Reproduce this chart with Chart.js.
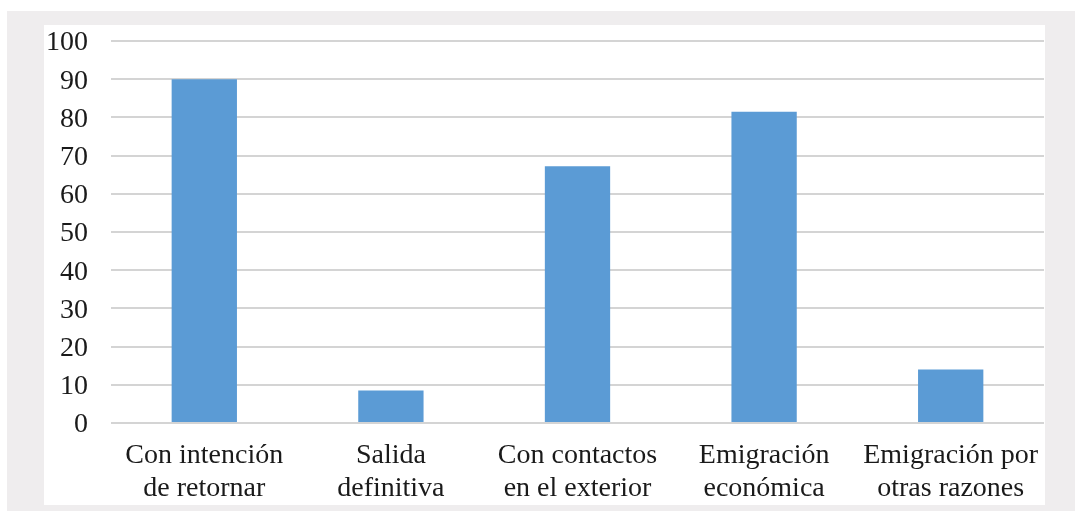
<!DOCTYPE html>
<html>
<head>
<meta charset="utf-8">
<script src="https://cdn.jsdelivr.net/npm/chart.js"></script>
<style>
	body { margin: 0; background: #fff; }
	.frame { position: absolute; left: 7px; top: 11px; width: 1068px; height: 500px; background: #efedee; }
	.panel { position: absolute; left: 44px; top: 25px; width: 1001px; height: 480px; background: #fff; }
	#bar-chart { position: absolute; left: 0; top: 0; }
</style>
</head>
<body>
<div class="frame"></div>
<div class="panel"></div>
<canvas id="bar-chart" width="1075" height="511"></canvas>
<script>
// categories (two lines each, as in the picture)
let categories = [
	["Con intención", "de retornar"],
	["Salida", "definitiva"],
	["Con contactos", "en el exterior"],
	["Emigración", "económica"],
	["Emigración por", "otras razones"]
];
let values = [90, 8.5, 67.2, 81.5, 14];
let yTicks = [0, 10, 20, 30, 40, 50, 60, 70, 80, 90, 100];

let textColor = "#1a1a1a",
	gridColor = "#d4d4d4",
	barColor = "#5b9bd5",
	fontFamily = "'Liberation Serif', 'Times New Roman', serif";

let ctx = document.querySelector("#bar-chart").getContext("2d");

let bChart = new Chart(ctx, {
	type: "bar",
	data: {
		labels: categories,
		datasets: [
			{
				data: values,
				backgroundColor: barColor,
				borderWidth: 0,
				barPercentage: 0.35,
				categoryPercentage: 1
			}
		]
	},
	options: {
		responsive: false,
		animation: false,
		layout: {
			padding: { left: 0, right: 31, top: 41, bottom: 0 }
		},
		plugins: {
			legend: { display: false },
			tooltip: { enabled: false }
		},
		scales: {
			x: {
				grid: { display: false },
				border: { display: false },
				ticks: {
					color: textColor,
					padding: 8,
					maxRotation: 0,
					autoSkip: false,
					font: { family: fontFamily, size: 28, lineHeight: 1.18 }
				},
				afterFit: function (scale) {
					scale.height = 88;
				}
			},
			y: {
				min: 0,
				max: 100,
				afterBuildTicks: function (scale) {
					scale.ticks = yTicks.map(function (v) { return { value: v }; });
				},
				grid: {
					color: gridColor,
					lineWidth: 2,
					drawTicks: false
				},
				border: { display: false },
				ticks: {
					color: textColor,
					padding: 23,
					labelOffset: 2,
					font: { family: fontFamily, size: 28 }
				},
				afterFit: function (scale) {
					scale.width = 111;
				}
			}
		}
	}
});
</script>
</body>
</html>
